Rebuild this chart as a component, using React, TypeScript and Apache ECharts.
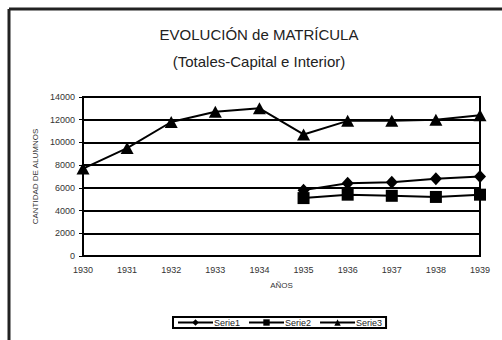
import React, { useEffect, useRef } from "react";
import * as echarts from "echarts";

const years = ["1930", "1931", "1932", "1933", "1934", "1935", "1936", "1937", "1938", "1939"];
const serie1 = [null, null, null, null, null, 5800, 6400, 6500, 6800, 7000];
const serie2 = [null, null, null, null, null, 5100, 5400, 5300, 5200, 5400];
const serie3 = [7700, 9500, 11800, 12700, 13000, 10700, 11900, 11900, 12000, 12400];
const titleLines = ["EVOLUCIÓN de MATRÍCULA", "(Totales-Capital e Interior)"];
const yName = "CANTIDAD DE ALUMNOS";
const xName = "AÑOS";

const FONT = "Liberation Sans, Arial, sans-serif";

export default function App() {
  const ref = useRef<HTMLDivElement>(null);
  useEffect(() => {
    if (!ref.current) return;
    const chart = echarts.init(ref.current, undefined, { renderer: "svg" });
    const mkSeries = (name: string, data: (number | null)[], symbol: string, size: any) => ({
      name,
      type: "line",
      data,
      symbol,
      symbolSize: size,
      showAllSymbol: true,
      connectNulls: false,
      lineStyle: { color: "#000", width: 2 },
      itemStyle: { color: "#000" },
      emphasis: { disabled: true },
    });
    chart.setOption({
      animation: false,
      textStyle: { fontFamily: FONT },
      title: {
        text: titleLines.join("\n"),
        left: 259,
        textAlign: "center",
        top: 21,
        padding: 0,
        textStyle: { fontFamily: FONT, fontSize: 15, fontWeight: "normal", color: "#222", lineHeight: 27 },
      },
      legend: {
        left: 173,
        top: 317,
        itemWidth: 35,
        itemHeight: 8,
        itemGap: 8,
        padding: [1, 4, 1, 4],
        borderColor: "#000",
        borderWidth: 2,
        borderRadius: 0,
        textStyle: { fontFamily: FONT, fontSize: 9, color: "#222", padding: [0, 0, 0, -4] },
        data: ["Serie1", "Serie2", "Serie3"],
      },
      grid: {
        left: 83,
        right: 22,
        top: 97,
        bottom: 84,
        show: true,
        borderColor: "#000",
        borderWidth: 2,
        backgroundColor: "transparent",
      },
      xAxis: {
        type: "category",
        data: years,
        boundaryGap: false,
        name: xName,
        nameLocation: "middle",
        nameGap: 25,
        nameTextStyle: { fontFamily: FONT, fontSize: 8, color: "#333" },
        axisLine: { lineStyle: { color: "#000", width: 2 } },
        axisTick: { show: false },
        axisLabel: { fontFamily: FONT, fontSize: 9, color: "#333", margin: 9 },
        splitLine: { show: false },
      },
      yAxis: {
        type: "value",
        min: 0,
        max: 14000,
        interval: 2000,
        name: yName,
        nameLocation: "middle",
        nameRotate: 90,
        nameGap: 39,
        nameTextStyle: { fontFamily: FONT, fontSize: 8, color: "#333" },
        axisLine: { show: true, lineStyle: { color: "#000", width: 2 } },
        axisTick: { show: true, length: 4, lineStyle: { color: "#000", width: 1 } },
        axisLabel: { fontFamily: FONT, fontSize: 9, color: "#333", margin: 8, formatter: (v: number) => String(v) },
        splitLine: { show: true, lineStyle: { color: "#000", width: 2 } },
      },
      graphic: [
        { type: "line", shape: { x1: 9, y1: 9, x2: 502, y2: 9 }, style: { stroke: "#222", lineWidth: 3 } },
        { type: "line", shape: { x1: 9, y1: 9, x2: 9, y2: 340 }, style: { stroke: "#222", lineWidth: 3 } },
      ],
      series: [
        mkSeries("Serie1", serie1, "diamond", [12, 13]),
        mkSeries("Serie2", serie2, "rect", [12, 12]),
        mkSeries("Serie3", serie3, "triangle", [13, 12]),
      ],
    });
    return () => chart.dispose();
  }, []);
  return <div ref={ref} style={{ position: "fixed", left: 0, top: 0, width: 502, height: 340, background: "#fff" }} />;
}
